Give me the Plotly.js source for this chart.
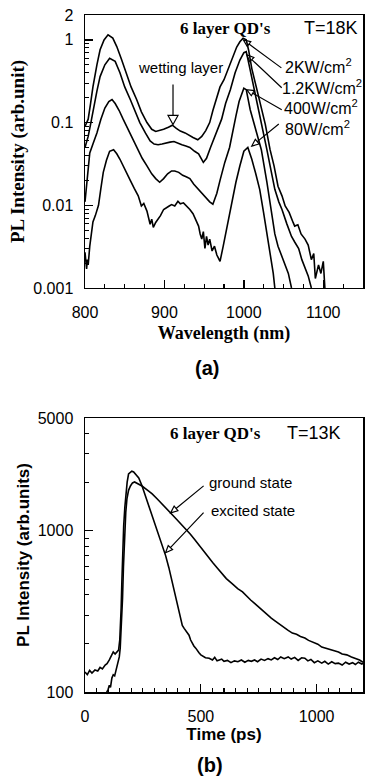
<!DOCTYPE html>
<html>
<head>
<meta charset="utf-8">
<script src="https://cdn.plot.ly/plotly-3.0.1.min.js"></script>
<style>html,body{margin:0;padding:0;background:#fff;}#chart{width:365px;height:784px;}</style>
</head>
<body>
<div id="chart"></div>
<script>
// ---------- (a) PL spectra, T=18K ----------
const wl_2kw = [800,804,807,810,815,819,824,829,835,840,846,852,858,865,871,878,884,889,894,899,905,910,915,920,926,931,936,942,947,952,957,961,966,970,975,979,985,991,995,999,1003,1006,1010,1015,1019,1023,1027,1033,1038,1043,1048,1052,1057,1062,1064,1068,1072,1077,1081,1085,1088,1090,1094,1097,1100,1102];
const pl_2kw = [0.09,0.11,0.17,0.27,0.5,0.76,1.0,1.15,1.05,0.83,0.58,0.4,0.27,0.19,0.135,0.1,0.083,0.078,0.08,0.083,0.088,0.093,0.085,0.079,0.075,0.07,0.066,0.062,0.068,0.08,0.1,0.14,0.2,0.27,0.33,0.42,0.6,0.82,0.95,1.05,1.0,0.75,0.45,0.28,0.19,0.13,0.095,0.047,0.03,0.017,0.013,0.0098,0.0082,0.0062,0.0056,0.0058,0.0045,0.0039,0.0033,0.0022,0.0026,0.0013,0.0019,0.0015,0.0021,0.001];

const wl_12kw = [800,804,807,810,815,819,825,831,838,844,850,857,863,869,876,882,887,892,897,902,907,912,917,922,927,932,938,943,949,953,958,962,966,972,977,983,989,995,1000,1003,1008,1016,1022,1029,1034,1039,1044,1048,1054,1060,1064,1069,1073,1077,1081,1085];
const pl_12kw = [0.05,0.068,0.095,0.14,0.24,0.36,0.5,0.6,0.55,0.4,0.27,0.19,0.14,0.1,0.075,0.06,0.055,0.054,0.055,0.057,0.058,0.059,0.056,0.054,0.052,0.05,0.045,0.042,0.033,0.037,0.05,0.062,0.076,0.11,0.17,0.25,0.4,0.57,0.7,0.72,0.43,0.19,0.095,0.047,0.027,0.0156,0.011,0.0089,0.006,0.0042,0.0036,0.003,0.0022,0.0017,0.0014,0.001];

const wl_400w = [800,802,804,806,810,815,820,825,830,834,838,843,848,855,861,867,872,878,884,889,894,899,904,909,913,918,923,928,932,937,942,947,953,957,961,966,970,976,982,986,990,994,997,1000,1003,1008,1015,1022,1029,1035,1039,1043,1048,1052,1056,1060];
const pl_400w = [0.011,0.018,0.03,0.043,0.055,0.075,0.11,0.15,0.18,0.19,0.17,0.14,0.11,0.08,0.062,0.045,0.037,0.03,0.024,0.021,0.019,0.021,0.024,0.026,0.026,0.025,0.023,0.022,0.021,0.018,0.016,0.014,0.012,0.011,0.0103,0.014,0.02,0.033,0.05,0.08,0.12,0.18,0.22,0.26,0.25,0.143,0.082,0.047,0.019,0.0074,0.0045,0.0032,0.0024,0.0019,0.0015,0.001];

const wl_80w = [800,801,802,803,804,806,808,810,813,817,820,823,827,831,836,840,844,850,857,862,867,871,874,878,880,882,884,886,889,892,895,899,902,906,909,913,917,920,924,928,932,936,940,943,945,947,949,951,953,955,957,960,963,966,968,970,974,978,982,986,990,995,1000,1005,1010,1015,1020,1025,1029,1032,1035,1037,1039];
const pl_80w = [0.0027,0.0019,0.0017,0.0022,0.0019,0.0032,0.0045,0.0063,0.0075,0.01,0.016,0.025,0.035,0.045,0.047,0.042,0.036,0.027,0.02,0.016,0.013,0.0098,0.0105,0.0085,0.0072,0.0059,0.0068,0.0054,0.0062,0.0068,0.0075,0.0089,0.0092,0.0098,0.0102,0.0098,0.0112,0.0104,0.0107,0.0098,0.0089,0.0079,0.0066,0.0056,0.0045,0.0039,0.0048,0.003,0.0042,0.0033,0.0039,0.0028,0.0032,0.0025,0.0023,0.0021,0.0032,0.005,0.008,0.012,0.019,0.03,0.045,0.05,0.036,0.024,0.0155,0.008,0.0047,0.0031,0.0022,0.0015,0.001];

// ---------- (b) time-resolved PL, T=13K ----------
const t_exc = [0,10,20,30,43,55,65,75,87,95,105,115,122,130,138,145,150,152,156,159,163,167,172,177,182,188,195,202,210,218,225,232,246,261,275,290,305,319,334,348,362,377,392,406,413,420,428,435,442,449,456,463,470,478,485,492,500,510,520,536,550,560,570,580,590,600,615,630,645,660,675,690,705,718,732,745,760,775,790,804,818,832,845,860,877,890,905,920,935,949,962,975,990,1005,1022,1035,1050,1065,1080,1094,1110,1125,1140,1155,1167,1180,1195,1200];
const pl_exc = [133,128,136,131,137,135,142,139,147,150,158,170,177,172,178,182,210,235,330,478,750,1073,1400,1716,2000,2248,2300,2340,2314,2250,2180,2124,1900,1644,1440,1238,1080,930,810,701,590,478,395,330,290,259,248,240,232,225,210,200,193,187,180,175,170,166,163,162,158,164,156,158,160,155,157,152,156,154,158,153,157,155,158,154,160,157,161,158,163,159,165,161,165,160,164,157,163,162,156,159,152,156,151,155,149,154,150,151,147,153,149,152,148,153,149,151];

const t_gnd = [90,95,100,105,110,116,122,128,133,138,143,148,152,157,162,166,171,176,181,188,196,205,214,230,246,268,290,311,333,352,370,390,412,435,455,475,493,512,531,551,570,590,610,635,659,680,695,715,732,750,768,785,804,820,840,860,877,895,913,930,949,965,985,1005,1022,1040,1058,1075,1094,1110,1130,1150,1167,1185,1200];
const pl_gnd = [97,100,104,110,107,122,128,126,135,141,150,165,187,260,380,600,975,1300,1575,1780,1894,1980,2006,1950,1894,1790,1692,1580,1468,1380,1292,1200,1110,1028,950,875,808,745,690,635,590,545,505,470,438,418,395,372,354,335,318,302,287,276,262,250,241,232,228,221,216,209,203,198,190,187,183,180,177,172,170,165,162,158,153];

const xticks_a = [800,900,1000,1100];
const yticks_a = [0.001,0.01,0.1,1,2];
const ytext_a = ['0.001','0.01','0.1','1','2'];
const xticks_b = [0,500,1000];
const yticks_b = [100,1000,5000];
const ytext_b = ['100','1000','5000'];

const lineStyle = {color:'black', width:1.6};
const traces = [
  {x:wl_2kw, y:pl_2kw, name:'2KW/cm2', xaxis:'x', yaxis:'y'},
  {x:wl_12kw, y:pl_12kw, name:'1.2KW/cm2', xaxis:'x', yaxis:'y'},
  {x:wl_400w, y:pl_400w, name:'400W/cm2', xaxis:'x', yaxis:'y'},
  {x:wl_80w, y:pl_80w, name:'80W/cm2', xaxis:'x', yaxis:'y'},
  {x:t_gnd, y:pl_gnd, name:'ground state', xaxis:'x2', yaxis:'y2'},
  {x:t_exc, y:pl_exc, name:'excited state', xaxis:'x2', yaxis:'y2'}
].map(t => Object.assign({type:'scatter', mode:'lines', line:lineStyle, hoverinfo:'skip'}, t));

function minorLog(lo, hi) {
  const v = [];
  for (let d = lo; d < hi; d *= 10) for (let k = 2; k <= 9; k++) v.push(+(d*k).toPrecision(3));
  return v;
}
function minorLin(a, b, step, skip) {
  const v = [];
  for (let x = a; x <= b; x += step) if (x % skip !== 0) v.push(x);
  return v;
}

// open-triangle arrow drawn as a pixel-sized shape anchored at the tip (data coords)
function arrowShape(xref, yref, xTip, yTip, ax, ay, L, w) {
  const tx = ax, ty = -ay;               // tail, pixel offsets (y up)
  const len = Math.hypot(tx, ty);
  const ux = -tx/len, uy = -ty/len;      // unit vector tail -> tip
  const bx = -ux*L, by = -uy*L;          // base centre of head
  const px = -uy, py = ux;
  const c1x = bx + px*w, c1y = by + py*w, c2x = bx - px*w, c2y = by - py*w;
  return {
    type:'path', xref:xref, yref:yref, xsizemode:'pixel', ysizemode:'pixel',
    xanchor:xTip, yanchor:yTip,
    path:`M ${tx},${ty} L ${bx},${by} M 0,0 L ${c1x},${c1y} L ${c2x},${c2y} Z`,
    line:{color:'black', width:1.2}, fillcolor:'rgba(0,0,0,0)', layer:'above'
  };
}

const sans = 'Liberation Sans, Arial, sans-serif';
const serif = 'Liberation Serif, Times New Roman, serif';
const axisBase = {
  showline:true, mirror:true, linecolor:'black', linewidth:1.5,
  ticks:'inside', ticklen:8, tickwidth:1.3, tickcolor:'black',
  showgrid:false, zeroline:false, automargin:false,
  tickfont:{family:sans, size:16, color:'black'}
};
const txt = (xref, yref, x, y, text, font, xanchor) => ({xref, yref, x, y, text, showarrow:false, font, xanchor:xanchor||'center', yanchor:'middle'});

const layout = {
  width:365, height:784,
  margin:{l:85, r:2, t:15, b:92},
  paper_bgcolor:'white', plot_bgcolor:'white',
  showlegend:false,
  font:{family:sans, size:16, color:'black'},
  xaxis: Object.assign({}, axisBase, {
    domain:[0,1], anchor:'y', range:[800,1150],
    tickmode:'array', tickvals:xticks_a, ticklabelstandoff:9,
    minor:{tickmode:'array', tickvals:minorLin(825,1150,25,100), ticks:'inside', ticklen:4, tickwidth:1.1, tickcolor:'black'},
    title:{text:'<b>Wavelength (nm)</b>', font:{family:serif, size:18, color:'black'}, standoff:6}
  }),
  yaxis: Object.assign({}, axisBase, {
    domain:[0.5968,1], anchor:'x', type:'log', range:[-3, Math.log10(2)],
    tickmode:'array', tickvals:yticks_a, ticktext:ytext_a, ticklabelstandoff:7,
    minor:{tickmode:'array', tickvals:minorLog(0.001,1), ticks:'inside', ticklen:4, tickwidth:1.1, tickcolor:'black'},
    title:{text:'<b>PL Intensity (arb.unit)</b>', font:{family:serif, size:19, color:'black'}, standoff:3}
  }),
  xaxis2: Object.assign({}, axisBase, {
    domain:[0,1], anchor:'y2', range:[0,1200],
    tickmode:'array', tickvals:xticks_b, ticklabelstandoff:9,
    minor:{tickmode:'array', tickvals:minorLin(50,1200,50,500), ticks:'inside', ticklen:4, tickwidth:1.1, tickcolor:'black'},
    title:{text:'<b>Time (ps)</b>', font:{family:sans, size:17, color:'black'}, standoff:4}
  }),
  yaxis2: Object.assign({}, axisBase, {
    domain:[0,0.4047], anchor:'x2', type:'log', range:[2, Math.log10(5000)],
    tickmode:'array', tickvals:yticks_b, ticktext:ytext_b, ticklabelstandoff:7,
    minor:{tickmode:'array', tickvals:[200,300,400,500,600,700,800,900,2000,3000,4000], ticks:'inside', ticklen:4, tickwidth:1.1, tickcolor:'black'},
    title:{text:'<b>PL Intensity (arb.units)</b>', font:{family:sans, size:17, color:'black'}, standoff:3}
  }),
  annotations: [
    txt('x domain','y domain', 0.504, 0.952, "<b>6 layer QD's</b>", {family:serif, size:17}),
    txt('x domain','y domain', 0.885, 0.952, 'T=18K', {family:sans, size:18}),
    txt('x domain','y domain', 0.342, 0.806, 'wetting layer', {family:sans, size:15}),
    txt('x domain','y domain', 0.712, 0.813, '2KW/cm<sup>2</sup>', {family:sans, size:16}, 'left'),
    txt('x domain','y domain', 0.703, 0.736, '1.2KW/cm<sup>2</sup>', {family:sans, size:16}, 'left'),
    txt('x domain','y domain', 0.709, 0.663, '400W/cm<sup>2</sup>', {family:sans, size:16}, 'left'),
    txt('x domain','y domain', 0.712, 0.586, '80W/cm<sup>2</sup>', {family:sans, size:16}, 'left'),
    txt('x2 domain','y2 domain', 0.471, 0.945, "<b>6 layer QD's</b>", {family:serif, size:17}),
    txt('x2 domain','y2 domain', 0.824, 0.945, 'T=13K', {family:sans, size:18}),
    txt('x2 domain','y2 domain', 0.439, 0.763, 'ground state', {family:sans, size:15}, 'left'),
    txt('x2 domain','y2 domain', 0.446, 0.664, 'excited state', {family:sans, size:15}, 'left'),
    txt('paper','paper', 0.439, 0.4786, '<b>(a)</b>', {family:sans, size:20}),
    txt('paper','paper', 0.45, -0.108, '<b>(b)</b>', {family:sans, size:20})
  ],
  shapes: [
    arrowShape('x','y', 999.4, 1.0, 38, 28, 7, 3),
    arrowShape('x','y', 1003.6, 0.66, 35, 33, 7, 3),
    arrowShape('x','y', 1003.6, 0.25, 35, 20, 7, 3),
    arrowShape('x','y', 1010, 0.052, 27, -22, 7, 3),
    arrowShape('x','y', 910.8, 0.095, 0, -40, 9, 5),
    arrowShape('x2','y2', 369.6, 1291, 33, -27, 7, 3),
    arrowShape('x2','y2', 347.8, 731, 38, -40, 7, 3)
  ]
};

Plotly.newPlot('chart', traces, layout, {staticPlot:true, displayModeBar:false});
</script>
</body>
</html>
